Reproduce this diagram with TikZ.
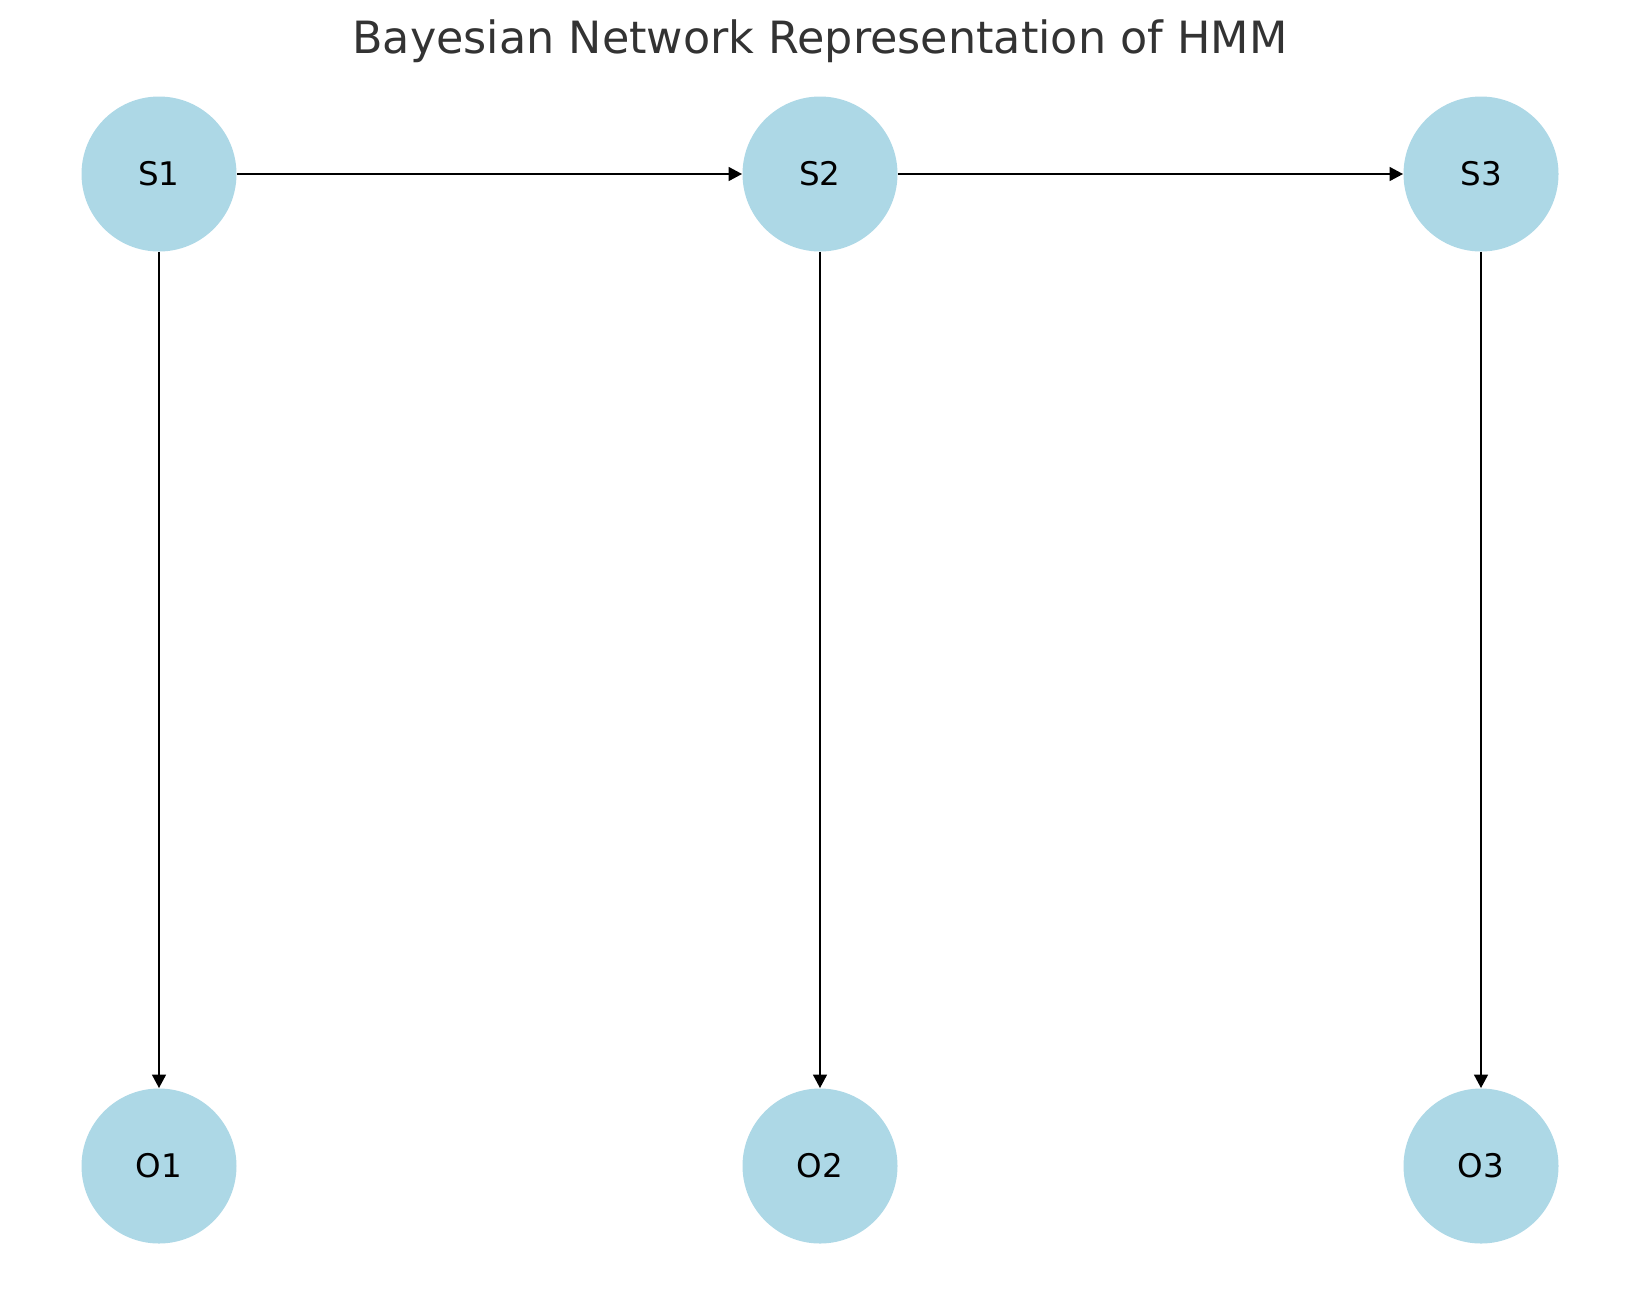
\documentclass[tikz,border=0pt]{standalone}
\usepackage{fontspec}
\setmainfont{DejaVu Sans}
\usetikzlibrary{arrows.meta, positioning}

\definecolor{knotenblau}{HTML}{ADD8E6}
\definecolor{titelgrau}{HTML}{333333}

\begin{document}
\begin{tikzpicture}[
    x=0.2mm, y=-0.2mm,
    >={Triangle[length=2.7mm, width=2.7mm]},
    zustand/.style={circle, fill=knotenblau, minimum size=31mm, inner sep=0pt, font=\fontsize{18.5}{20}\selectfont},
    kante/.style={->, line width=0.55mm}
]

\useasboundingbox (0,0) rectangle (1639,1290);

% --- Titel ---
\node[anchor=base, text=titelgrau, font=\fontsize{25.3}{28}\selectfont] (titel) at (820,53) {Bayesian Network Representation of HMM};

% --- Zustaende ---
\node[zustand] (S1) at (159,174) {S1};
\node[zustand] (S2) at (820,174) {S2};
\node[zustand] (S3) at (1481,174) {S3};

% --- Beobachtungen ---
\node[zustand] (O1) at (159,1166) {O1};
\node[zustand] (O2) at (820,1166) {O2};
\node[zustand] (O3) at (1481,1166) {O3};

% --- Uebergaenge ---
\draw[kante] (S1) -- (S2);
\draw[kante] (S2) -- (S3);

% --- Emissionen ---
\draw[kante] (S1) -- (O1);
\draw[kante] (S2) -- (O2);
\draw[kante] (S3) -- (O3);

\end{tikzpicture}
\end{document}
